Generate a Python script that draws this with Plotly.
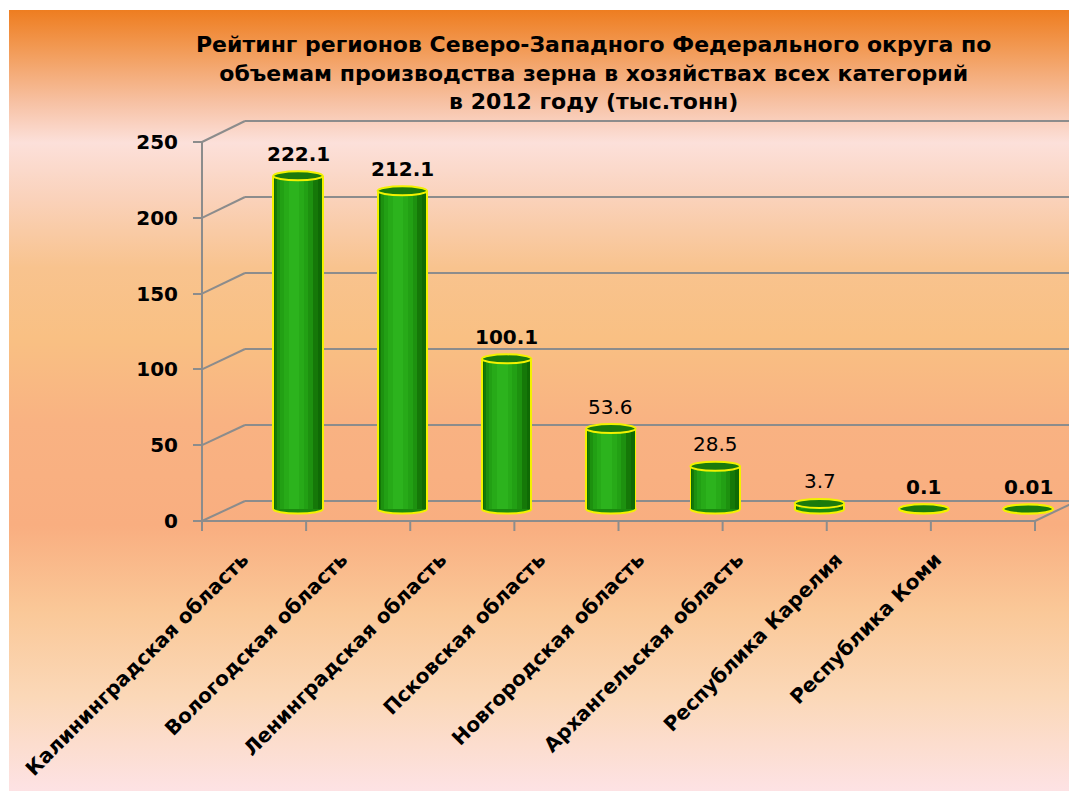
import base64
import plotly.graph_objects as go

# ---------------- data ----------------
categories = ["Калининградская область", "Вологодская область", "Ленинградская область",
              "Псковская область", "Новгородская область", "Архангельская область",
              "Республика Карелия", "Республика Коми"]
values = [222.1, 212.1, 100.1, 53.6, 28.5, 3.7, 0.1, 0.01]
value_labels = ["222.1", "212.1", "100.1", "53.6", "28.5", "3.7", "0.1", "0.01"]
label_bold = [True, True, True, False, False, False, True, True]
y_ticks = [0, 50, 100, 150, 200, 250]
title_lines = ["Рейтинг регионов Северо-Западного Федерального округа по",
               "объемам производства зерна в хозяйствах всех категорий",
               "в 2012 году (тыс.тонн)"]

# ---------------- geometry (screen pixels; page body adds an 8px margin) ----------------
PAGE_OFF = 8
SCREEN_W, SCREEN_H = 1077, 791
FIG_W, FIG_H = SCREEN_W - PAGE_OFF, SCREEN_H - PAGE_OFF
L, R, T, B = 190, 1077, 110, 535
W, H = R - L, B - T
X0, DX = 298, 104.3          # bar centre of first category, px per category
Y0, DY = 509, 1.5            # bar base, px per unit
FRONT_X, BACK_X, FRONT_RIGHT = 202, 245, 1035
FRONT_Y0, FRONT_K = 521, 1.516
BACK_Y0, BACK_K = 501, 1.52

def front(v):
    return FRONT_Y0 - FRONT_K * v

def back(v):
    return BACK_Y0 - BACK_K * v

def pxp(x):
    return (x - L) / W

def pyp(y):
    return (B - y) / H

xr = [(L - X0) / DX, (R - X0) / DX]
yr = [(Y0 - B) / DY, (Y0 - T) / DY]
y2r = [(FRONT_Y0 - B) / FRONT_K, (FRONT_Y0 - T) / FRONT_K]

GRID = "#8c8c8c"
YELLOW = "#f2f200"
BAR_W = 0.455

n = len(categories)
xs = list(range(n))

fig = go.Figure()

# yellow outline underlay
fig.add_trace(go.Bar(x=xs, y=values, width=BAR_W + 0.035, marker=dict(color=YELLOW, line=dict(width=0)),
                     hoverinfo="skip", showlegend=False))
# cylinder shading layers
layers = [(1.00, 0.00, "#0f6a05"), (0.90, -0.03, "#157808"), (0.76, -0.06, "#1d910f"),
          (0.60, -0.08, "#22a014"), (0.42, -0.09, "#27aa18"), (0.22, -0.09, "#2cb31d")]
for frac, shift, col in layers:
    w = BAR_W * frac
    fig.add_trace(go.Bar(x=xs, y=values, width=w, offset=shift * BAR_W - w / 2,
                         marker=dict(color=col, line=dict(width=0)),
                         hoverinfo="skip", showlegend=False))

shapes = []
# back wall gridlines and side connectors
for v in y_ticks:
    shapes.append(dict(type="line", xref="paper", yref="paper", x0=pxp(BACK_X), x1=1.0,
                       y0=pyp(back(v)), y1=pyp(back(v)), line=dict(color=GRID, width=2), layer="below"))
    shapes.append(dict(type="line", xref="paper", yref="paper", x0=pxp(FRONT_X), x1=pxp(BACK_X),
                       y0=pyp(front(v)), y1=pyp(back(v)), line=dict(color=GRID, width=2), layer="below"))
# front floor edge
shapes.append(dict(type="line", xref="paper", yref="paper", x0=pxp(FRONT_X), x1=pxp(FRONT_RIGHT),
                   y0=pyp(front(0)), y1=pyp(front(0)), line=dict(color=GRID, width=2), layer="below"))
shapes.append(dict(type="line", xref="paper", yref="paper", x0=pxp(FRONT_RIGHT), x1=1.0,
                   y0=pyp(front(0)), y1=pyp(back(0)), line=dict(color=GRID, width=2), layer="below"))
# front vertical axis
shapes.append(dict(type="line", xref="paper", yref="paper", x0=pxp(FRONT_X), x1=pxp(FRONT_X),
                   y0=pyp(front(y_ticks[-1])), y1=pyp(front(0) + 10), line=dict(color=GRID, width=2), layer="below"))
# category boundary ticks
step = (FRONT_RIGHT - FRONT_X) / n
for k in range(1, n + 1):
    xk = FRONT_X + k * step
    shapes.append(dict(type="line", xref="paper", yref="paper", x0=pxp(xk), x1=pxp(xk),
                       y0=pyp(front(0)), y1=pyp(front(0) + 10), line=dict(color=GRID, width=2), layer="below"))

# cylinder ends
EH = 3.0          # half height of ellipse (data units)
EW = 0.475        # ellipse width (category units)
for i, v in enumerate(values):
    shapes.append(dict(type="circle", xref="x", yref="y", x0=i - EW / 2, x1=i + EW / 2,
                       y0=-EH, y1=EH, fillcolor="#1a8a0e", line=dict(color=YELLOW, width=2), layer="between"))
    shapes.append(dict(type="circle", xref="x", yref="y", x0=i - EW / 2, x1=i + EW / 2,
                       y0=v - EH, y1=v + EH, fillcolor="#1b7a0c", line=dict(color=YELLOW, width=2), layer="above"))

annotations = []
for i, (v, lab, bold) in enumerate(zip(values, value_labels, label_bold)):
    annotations.append(dict(x=i, y=v, xref="x", yref="y", text=lab, showarrow=False,
                            yanchor="bottom", xanchor="center", yshift=8,
                            font=dict(family="DejaVu Sans", size=20, color="black",
                                      weight="bold" if bold else "normal")))
# title
annotations.append(dict(x=pxp(593), y=pyp(30), xref="paper", yref="paper", xanchor="center",
                        yanchor="top", align="center", showarrow=False, text="<br>".join(title_lines),
                        font=dict(family="DejaVu Sans", size=22, color="black", weight="bold")))

# background gradient
stops = [(0.00, "#ee7d20"), (0.05, "#f29a55"), (0.12, "#f7c2a5"), (0.17, "#fce0da"),
         (0.24, "#fad2bb"), (0.33, "#f8c38e"), (0.42, "#f9c083"), (0.53, "#f9b282"),
         (0.66, "#f9ae80"), (0.77, "#fac898"), (0.88, "#fbd8b8"), (1.00, "#fde2e4")]
stop_xml = "".join(f'<stop offset="{o}" stop-color="{c}"/>' for o, c in stops)
svg = ('<svg xmlns="http://www.w3.org/2000/svg" width="1068" height="781" preserveAspectRatio="none">'
       '<defs><linearGradient id="g" x1="0" y1="0" x2="0" y2="1">' + stop_xml +
       '</linearGradient></defs><rect x="0" y="0" width="1068" height="781" fill="url(#g)"/></svg>')
uri = "data:image/svg+xml;base64," + base64.b64encode(svg.encode("utf-8")).decode("ascii")
BG_X0, BG_Y0 = 9, 10
images = [dict(source=uri, xref="paper", yref="paper", x=pxp(BG_X0), y=pyp(BG_Y0),
               sizex=(SCREEN_W - BG_X0) / W, sizey=(SCREEN_H - BG_Y0) / H, sizing="stretch",
               xanchor="left", yanchor="top", layer="below")]

LABEL_OFF, LABEL_STEP = -0.53, 0.949
label_pos = [LABEL_OFF + i * LABEL_STEP for i in range(n)]

fig.update_layout(
    width=FIG_W, height=FIG_H, autosize=False,
    margin=dict(l=L - PAGE_OFF, r=SCREEN_W - R, t=T - PAGE_OFF, b=SCREEN_H - B, pad=0),
    paper_bgcolor="white", plot_bgcolor="rgba(0,0,0,0)",
    barmode="overlay", bargap=0, showlegend=False,
    xaxis=dict(range=xr, visible=False, fixedrange=True),
    xaxis2=dict(range=xr, overlaying="x", anchor="y", side="bottom", showgrid=False, zeroline=False,
                showline=False, ticks="", tickmode="array", tickvals=label_pos, ticktext=categories,
                tickangle=-45, ticklabelstandoff=8,
                tickfont=dict(family="DejaVu Sans", size=20, color="black", weight="bold")),
    yaxis=dict(range=yr, visible=False, fixedrange=True),
    yaxis2=dict(range=y2r, overlaying="y", anchor="free", position=pxp(FRONT_X), side="left",
                showgrid=False, zeroline=False, showline=False, tickmode="array", tickvals=y_ticks,
                ticks="outside", ticklen=9, tickwidth=2, tickcolor=GRID, ticklabelstandoff=11,
                tickfont=dict(family="DejaVu Sans", size=20, color="black", weight="bold")),
    shapes=shapes, annotations=annotations, images=images,
)
# invisible point that activates the secondary axes
fig.add_trace(go.Scatter(x=[xr[0]], y=[0], xaxis="x2", yaxis="y2", mode="markers",
                         marker=dict(opacity=0), hoverinfo="skip", showlegend=False))

fig.write_html("out.html")
